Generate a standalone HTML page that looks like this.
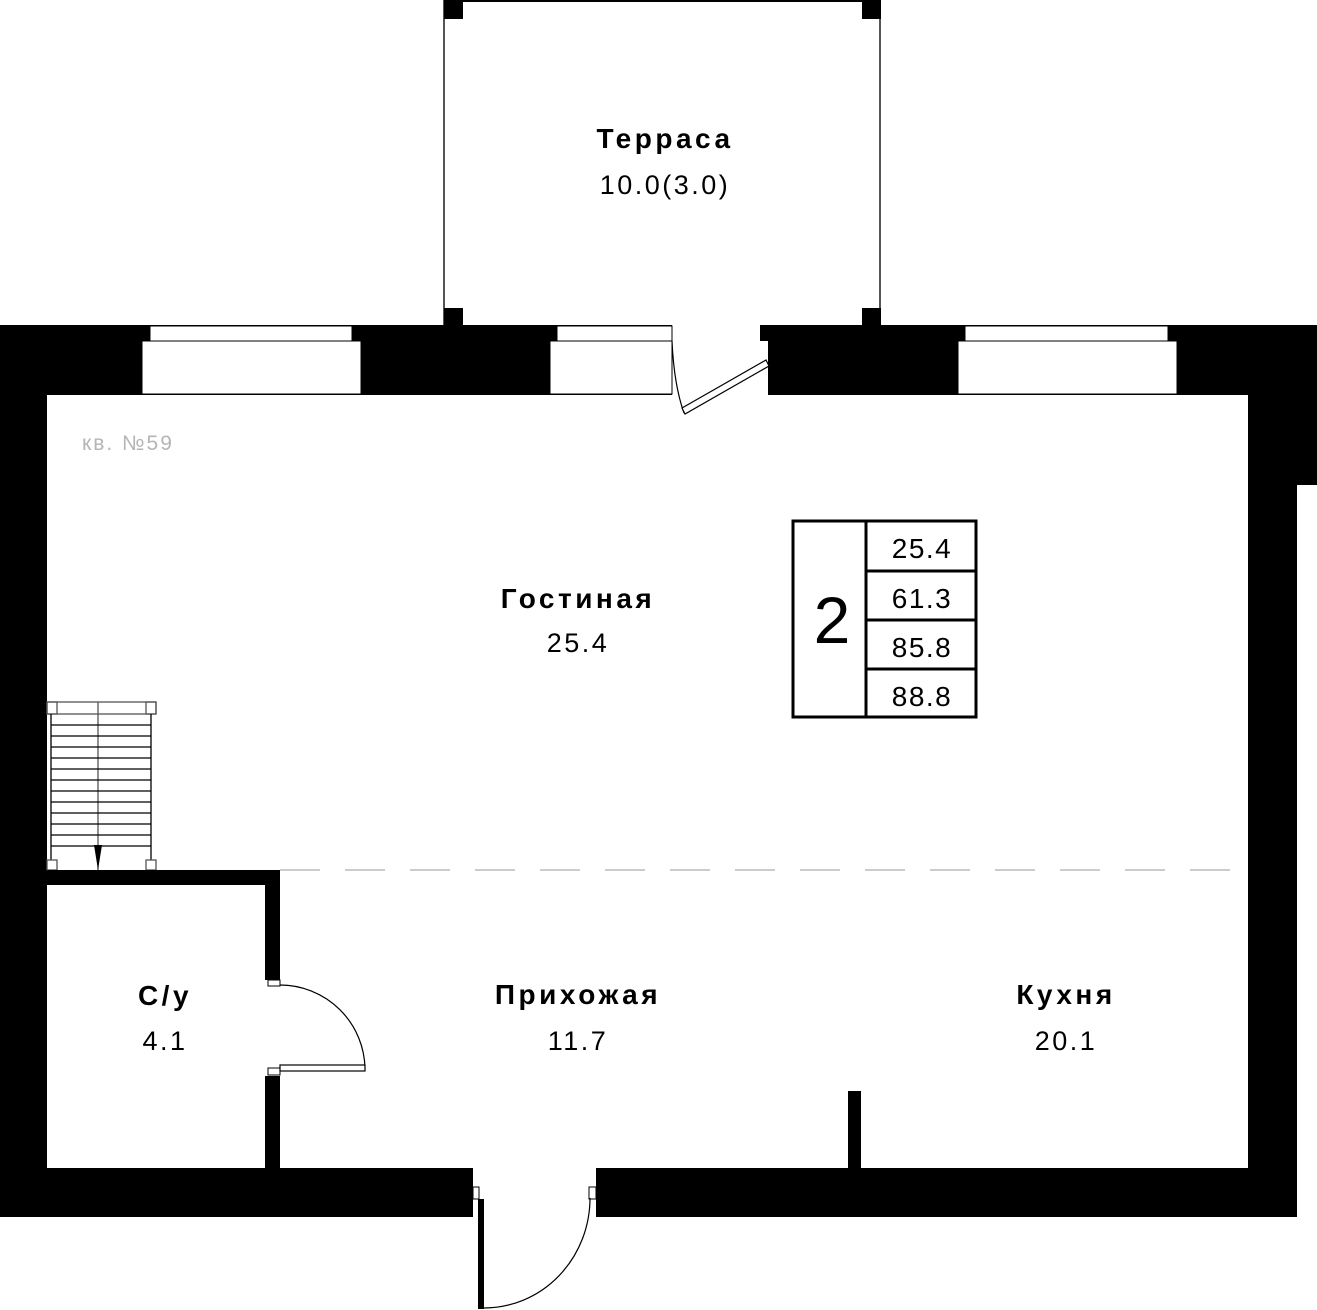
<!DOCTYPE html>
<html><head><meta charset="utf-8"><style>
html,body{margin:0;padding:0;background:#fff;}
svg{display:block;}
text{font-family:"Liberation Sans","DejaVu Sans",sans-serif;}
</style></head><body>
<svg width="1317" height="1310" viewBox="0 0 1317 1310" xmlns="http://www.w3.org/2000/svg">
<rect width="1317" height="1310" fill="#fff"/>
<line x1="444" y1="0" x2="444" y2="325" stroke="#555" stroke-width="2"/>
<line x1="880" y1="0" x2="880" y2="325" stroke="#555" stroke-width="2"/>
<line x1="444" y1="1" x2="880" y2="1" stroke="#000" stroke-width="2"/>
<rect x="444" y="0" width="19" height="19" fill="#000"/>
<rect x="862" y="0" width="19" height="19" fill="#000"/>
<rect x="444" y="308" width="19" height="18" fill="#000"/>
<rect x="862" y="308" width="19" height="18" fill="#000"/>
<rect x="0" y="325" width="672" height="70" fill="#000"/>
<rect x="760" y="325" width="557" height="16" fill="#000"/>
<rect x="768" y="341" width="549" height="54" fill="#000"/>
<rect x="1290" y="390" width="27" height="95" fill="#000"/>
<rect x="150" y="326" width="202" height="15" fill="#fff" stroke="#000" stroke-width="1"/>
<rect x="142" y="341" width="219" height="53" fill="#fff" stroke="#000" stroke-width="1"/>
<rect x="557" y="326" width="115" height="15" fill="#fff" stroke="#000" stroke-width="1"/>
<rect x="550" y="341" width="122" height="53" fill="#fff" stroke="#000" stroke-width="1"/>
<rect x="965" y="326" width="203" height="15" fill="#fff" stroke="#000" stroke-width="1"/>
<rect x="958" y="341" width="219" height="53" fill="#fff" stroke="#000" stroke-width="1"/>
<rect x="0" y="325" width="47" height="892" fill="#000"/>
<rect x="1248" y="390" width="49" height="827" fill="#000"/>
<rect x="0" y="1168" width="473" height="49" fill="#000"/>
<rect x="596" y="1168" width="701" height="49" fill="#000"/>
<path d="M672 341 Q674 385 684 413" fill="none" stroke="#000" stroke-width="1.2"/>
<polygon points="682,408 766,360 769,366 685,414" fill="#fff" stroke="#000" stroke-width="1.2"/>
<g stroke="#000" stroke-width="1.3" fill="none">
<rect x="47" y="702" width="109" height="12" stroke="#555"/>
<rect x="47" y="702" width="10" height="12" stroke="#555"/>
<rect x="146" y="702" width="10" height="12" stroke="#555"/>
<line x1="51" y1="714" x2="51" y2="860"/>
<line x1="151" y1="714" x2="151" y2="860"/>
<line x1="98" y1="702" x2="98" y2="870" stroke="#555"/>
<line x1="51" y1="725" x2="151" y2="725"/>
<line x1="51" y1="736" x2="151" y2="736"/>
<line x1="51" y1="747" x2="151" y2="747"/>
<line x1="51" y1="758" x2="151" y2="758"/>
<line x1="51" y1="769" x2="151" y2="769"/>
<line x1="51" y1="780" x2="151" y2="780"/>
<line x1="51" y1="791" x2="151" y2="791"/>
<line x1="51" y1="802" x2="151" y2="802"/>
<line x1="51" y1="813" x2="151" y2="813"/>
<line x1="51" y1="824" x2="151" y2="824"/>
<line x1="51" y1="835" x2="151" y2="835"/>
<line x1="51" y1="846" x2="151" y2="846"/>
<rect x="47" y="860" width="10" height="10" stroke="#555"/>
<rect x="146" y="860" width="10" height="10" stroke="#555"/>
</g>
<polygon points="94,845 102,845 98,870" fill="#000"/>
<line x1="280" y1="870" x2="1248" y2="870" stroke="#bbb" stroke-width="1.5" stroke-dasharray="40,25"/>
<rect x="47" y="870" width="233" height="15" fill="#000"/>
<rect x="265" y="870" width="15" height="110" fill="#000"/>
<rect x="265" y="1076" width="15" height="92" fill="#000"/>
<rect x="268" y="980" width="12" height="6" fill="#fff" stroke="#000" stroke-width="1"/>
<rect x="268" y="1068" width="12" height="7" fill="#fff" stroke="#000" stroke-width="1"/>
<path d="M280 985 A85 85 0 0 1 365 1069" fill="none" stroke="#000" stroke-width="1.2"/>
<rect x="280" y="1065" width="85" height="6" fill="#fff" stroke="#000" stroke-width="1.2"/>
<rect x="848" y="1091" width="13" height="78" fill="#000"/>
<rect x="473" y="1187" width="6" height="12" fill="#fff" stroke="#000" stroke-width="1"/>
<rect x="589" y="1187" width="7" height="12" fill="#fff" stroke="#000" stroke-width="1"/>
<rect x="478" y="1199" width="6" height="110" fill="#000"/>
<path d="M484 1308 A106 110 0 0 0 590 1198" fill="none" stroke="#000" stroke-width="1.2"/>
<g fill="none" stroke="#000" stroke-width="3">
<rect x="793" y="521" width="183" height="196"/>
<line x1="866" y1="521" x2="866" y2="717"/>
<line x1="866" y1="571" x2="976" y2="571"/>
<line x1="866" y1="620" x2="976" y2="620"/>
<line x1="866" y1="669" x2="976" y2="669"/>
</g>
<g font-size="28" text-anchor="middle" fill="#000" letter-spacing="1.5">
<text x="922" y="558">25.4</text>
<text x="922" y="608">61.3</text>
<text x="922" y="657">85.8</text>
<text x="922" y="706">88.8</text>
</g>
<text x="832" y="643" font-size="66" text-anchor="middle">2</text>
<text x="82" y="450" font-size="21" fill="#b5b5b5" letter-spacing="2">кв. №59</text>
<g text-anchor="middle" fill="#000">
<g font-size="28" font-weight="bold" letter-spacing="3.5">
<text x="665" y="148">Терраса</text>
<text x="578" y="608">Гостиная</text>
<text x="165" y="1005">С/у</text>
<text x="578" y="1004">Прихожая</text>
<text x="1066" y="1004">Кухня</text>
</g>
<g font-size="27" letter-spacing="2.5">
<text x="665" y="194">10.0(3.0)</text>
<text x="578" y="652">25.4</text>
<text x="165" y="1050">4.1</text>
<text x="578" y="1050">11.7</text>
<text x="1066" y="1050">20.1</text>
</g>
</g>
</svg>
</body></html>
